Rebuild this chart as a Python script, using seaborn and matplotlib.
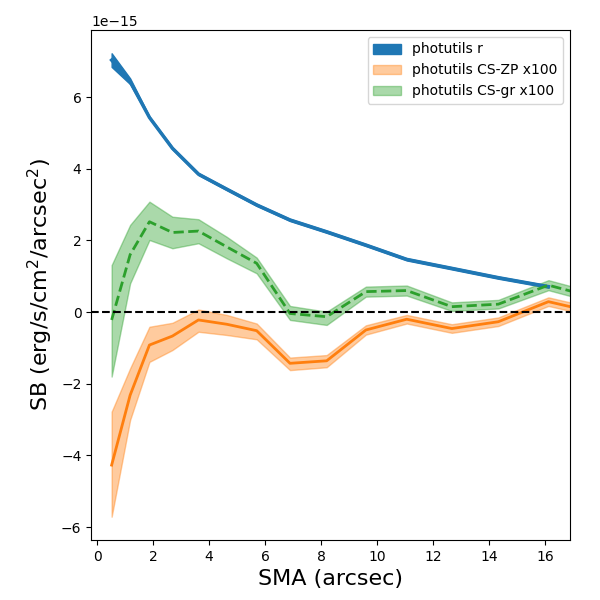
import numpy as np
import pandas as pd
import matplotlib
matplotlib.use("Agg")
import matplotlib.pyplot as plt
import seaborn as sns

# SMA grid (arcsec)
sma = [0.52, 1.18, 1.87, 2.69, 3.62, 4.63, 5.70, 6.89, 8.20, 9.60,
       11.06, 12.67, 14.33, 16.12, 17.90]

# photutils r profile (units of 1e-15), ends at 16.12
r_mid = [7.03, 6.43, 5.43, 4.57, 3.85, 3.43, 2.99, 2.57, 2.24, 1.87,
         1.47, 1.22, 0.96, 0.71]
r_lo = [6.84, 6.36, 5.40, 4.54, 3.82, 3.40, 2.96, 2.54, 2.21, 1.84,
        1.44, 1.19, 0.93, 0.68]
r_hi = [7.22, 6.52, 5.46, 4.60, 3.88, 3.46, 3.02, 2.60, 2.27, 1.90,
        1.50, 1.25, 0.99, 0.74]

# CS-ZP x100
zp_mid = [-4.27, -2.32, -0.92, -0.67, -0.22, -0.34, -0.52, -1.43, -1.36,
          -0.50, -0.20, -0.46, -0.27, 0.29, -0.03]
zp_lo = [-5.71, -3.01, -1.39, -1.06, -0.55, -0.64, -0.76, -1.62, -1.54,
         -0.63, -0.32, -0.58, -0.39, 0.17, -0.15]
zp_hi = [-2.78, -1.57, -0.41, -0.30, 0.07, -0.08, -0.32, -1.27, -1.20,
         -0.37, -0.08, -0.34, -0.15, 0.41, 0.09]

# CS-gr x100
gr_mid = [-0.22, 1.60, 2.52, 2.22, 2.26, 1.82, 1.36, -0.04, -0.13,
          0.57, 0.60, 0.15, 0.22, 0.75, 0.38]
gr_lo = [-1.80, 0.80, 2.01, 1.78, 1.92, 1.50, 1.08, -0.22, -0.36,
         0.43, 0.46, 0.03, 0.10, 0.61, 0.24]
gr_hi = [1.31, 2.43, 3.08, 2.66, 2.59, 2.10, 1.52, 0.17, 0.01,
         0.71, 0.74, 0.27, 0.34, 0.89, 0.52]

scale = 1e-15
x = np.array(sma)
n_r = len(r_mid)

df = pd.DataFrame({
    "sma": list(x[:n_r]) + list(x) + list(x),
    "sb": list(np.array(r_mid) * scale) + list(np.array(zp_mid) * scale)
          + list(np.array(gr_mid) * scale),
    "profile": ["r"] * n_r + ["zp"] * len(x) + ["gr"] * len(x),
})

fig, ax = plt.subplots(figsize=(6, 6), dpi=100)
fig.subplots_adjust(left=0.152, right=0.95, bottom=0.10, top=0.95)

ax.fill_between(x[:n_r], np.array(r_lo) * scale, np.array(r_hi) * scale,
                color="C0", alpha=1.0, label="photutils r")
ax.fill_between(x, np.array(zp_lo) * scale, np.array(zp_hi) * scale,
                color="C1", alpha=0.4, label="photutils CS-ZP x100")
ax.fill_between(x, np.array(gr_lo) * scale, np.array(gr_hi) * scale,
                color="C2", alpha=0.4, label="photutils CS-gr x100")

sns.lineplot(data=df[df.profile == "r"], x="sma", y="sb", color="C0",
             lw=2.5, ax=ax, legend=False)
sns.lineplot(data=df[df.profile == "zp"], x="sma", y="sb", color="C1",
             lw=2, ax=ax, legend=False)
sns.lineplot(data=df[df.profile == "gr"], x="sma", y="sb", color="C2",
             lw=2, ls="--", ax=ax, legend=False)

ax.axhline(0, color="k", ls="--", lw=1.5)

ax.set_xlim(-0.21, 16.89)
ax.set_ylim(-6.36e-15, 7.87e-15)
ax.set_xlabel("SMA (arcsec)", fontsize=16)
ax.set_ylabel("SB (erg/s/cm$^2$/arcsec$^2$)", fontsize=16)
ax.legend(loc="upper right")

plt.savefig("out.png")
